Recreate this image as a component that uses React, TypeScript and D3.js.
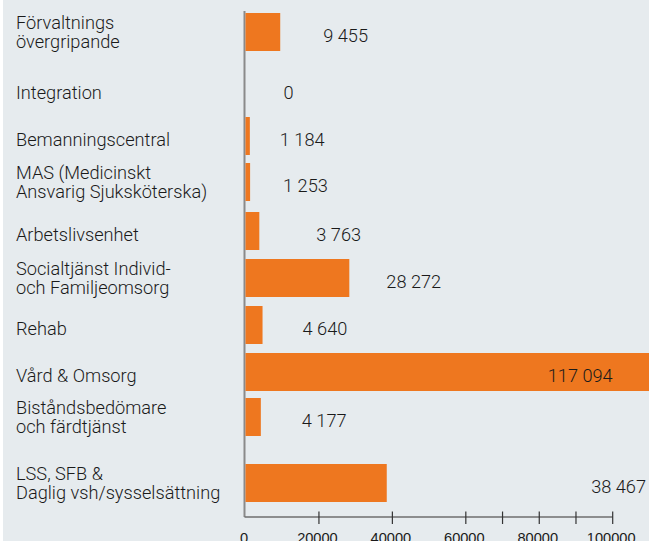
import React from "react";
import * as d3 from "d3";

// ---- data ----
const categories = [
  "Förvaltnings\növergripande",
  "Integration",
  "Bemanningscentral",
  "MAS (Medicinskt\nAnsvarig Sjuksköterska)",
  "Arbetslivsenhet",
  "Socialtjänst Individ-\noch Familjeomsorg",
  "Rehab",
  "Vård & Omsorg",
  "Biståndsbedömare\noch färdtjänst",
  "LSS, SFB &\nDaglig vsh/sysselsättning",
];
const values = [9455, 0, 1184, 1253, 3763, 28272, 4640, 117094, 4177, 38467];
const tickValues = [20000, 40000, 60000, 70000, 80000, 90000, 100000];
const tickLabels = [0, 20000, 40000, 60000, 80000, 100000];

// ---- layout ----
const W = 649;
const H = 541;
const rowCenters = [32, 89, 136, 182, 231, 278, 325, 372, 417, 483];
// value label placement: gap from bar end (start anchored) or "end" anchoring
const labelPlacement: { [k: number]: { gap?: number; endAt?: "axisMax" | "edge" } } = {
  0: { gap: 43 },
  1: { gap: 38 },
  2: { gap: 30 },
  3: { gap: 33 },
  4: { gap: 57 },
  5: { gap: 37 },
  6: { gap: 40 },
  7: { endAt: "axisMax" },
  8: { gap: 41 },
  9: { endAt: "edge" },
};

const BG = "#e6ebee";
const ORANGE = "#ee771f";
const TEXT = "#1a1a1a";
const FONT = "Roboto, 'Noto Sans', sans-serif";
const AXIS_FONT = "'Liberation Sans', Arial, sans-serif";
const FS = 18.2;

const locale = d3.formatLocale({
  decimal: ",",
  thousands: " ",
  grouping: [3],
  currency: ["", ""],
});
const fmt = locale.format(",d");

export default function App() {
  const x = d3.scaleLinear().domain([0, 100000]).range([245.5, 612.7]);
  const y = d3.scaleOrdinal<string, number>().domain(categories).range(rowCenters);
  const barH = 38;
  const axisY = 517;

  return (
    <svg
      width={W}
      height={H}
      style={{ position: "absolute", left: 0, top: 0, display: "block" }}
    >
      <rect x={0} y={0} width={W} height={H} fill="#ffffff" />
      <rect x={3} y={0} width={W - 3} height={H} fill={BG} />

      {/* y axis line */}
      <line x1={244.5} x2={244.5} y1={11} y2={axisY} stroke="#8a8a8a" strokeWidth={2} />

      {/* bars */}
      {categories.map((c, i) =>
        values[i] > 0 ? (
          <rect
            key={"b" + i}
            x={x(0)}
            y={y(c) - barH / 2}
            width={x(values[i]) - x(0)}
            height={barH}
            fill={ORANGE}
          />
        ) : null
      )}

      {/* category labels */}
      {categories.map((c, i) => {
        const lines = c.split("\n");
        const cy = y(c);
        return (
          <text
            key={"c" + i}
            x={16}
            fontFamily={FONT}
            fontWeight={300}
            fontSize={FS}
            fill={TEXT}
          >
            {lines.length === 1 ? (
              <tspan x={16} y={cy + 9.5}>{lines[0]}</tspan>
            ) : (
              lines.map((l, j) => (
                <tspan key={j} x={16} y={cy - 2.8 + j * 18.8}>
                  {l}
                </tspan>
              ))
            )}
          </text>
        );
      })}

      {/* value labels */}
      {categories.map((c, i) => {
        const p = labelPlacement[i];
        let lx: number;
        let anchor: "start" | "end" = "start";
        if (p.endAt === "axisMax") {
          lx = x(100000);
          anchor = "end";
        } else if (p.endAt === "edge") {
          lx = W - 3;
          anchor = "end";
        } else {
          lx = x(values[i]) + (p.gap || 0);
        }
        return (
          <text
            key={"v" + i}
            x={lx}
            y={y(c) + 10}
            textAnchor={anchor}
            fontFamily={FONT}
            fontWeight={300}
            fontSize={FS}
            fill={TEXT}
          >
            {fmt(values[i])}
          </text>
        );
      })}

      {/* x axis */}
      <line x1={x(0) - 1} x2={x(100000)} y1={axisY} y2={axisY} stroke="#6e6e6e" strokeWidth={1.5} />
      {tickValues.map((t) => (
        <line
          key={"t" + t}
          x1={x(t)}
          x2={x(t)}
          y1={axisY - 5.5}
          y2={axisY + 7}
          stroke="#333333"
          strokeWidth={1.2}
        />
      ))}
      {tickLabels.map((t) => (
        <text
          key={"tl" + t}
          x={x(t) - 1.5}
          y={542.5}
          textAnchor="middle"
          fontFamily={AXIS_FONT}
          fontSize={14.6}
          fill={TEXT}
        >
          {String(t)}
        </text>
      ))}
    </svg>
  );
}
